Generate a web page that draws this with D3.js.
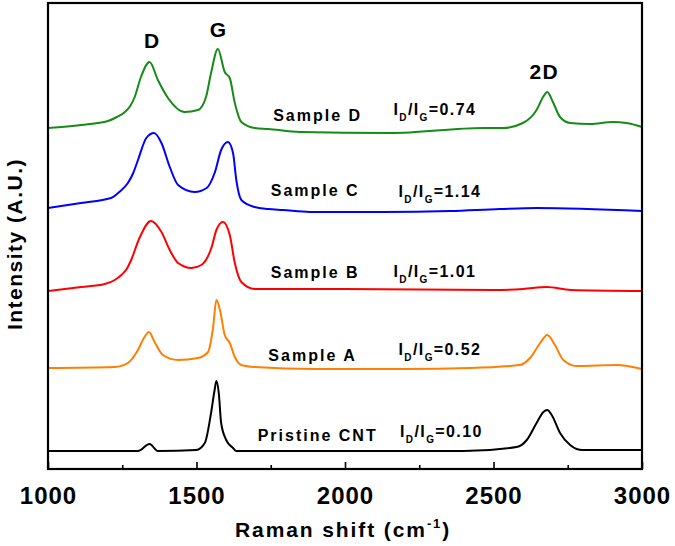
<!DOCTYPE html>
<html>
<head>
<meta charset="utf-8">
<script src="https://cdn.jsdelivr.net/npm/d3@7"></script>
<style>
  html, body { margin: 0; padding: 0; background: #fff; }
  svg { display: block; font-family: Arial, "Liberation Sans", sans-serif; }
</style>
</head>
<body>
<svg id="chart" width="675" height="546"></svg>
<script>
// ---- data (Raman shift in cm^-1, intensity in arbitrary units, curves already stacked) ----
const pristineCNT = [[1000,18],[1303,18],[1342,25],[1370,18],[1499,19],[1528,26],[1549,56],[1561,79],[1567,88],[1575,76],[1583,46],[1600,29],[1623,21],[1634,18],[2400,18],[2578,22],[2612,29],[2645,46],[2668,57],[2681,59],[2696,54],[2724,36],[2758,24],[2780,20],[2800,19],[3000,19]];
const sampleA = [[1000,101],[1225,102],[1269,106],[1303,119],[1325,132],[1340,137],[1359,127],[1387,114],[1438,109],[1505,111],[1539,117],[1556,142],[1567,169],[1579,159],[1595,134],[1612,126],[1629,112],[1651,104],[1696,102],[1900,100],[2200,100],[2421,101],[2589,104],[2623,111],[2657,126],[2681,134],[2707,124],[2735,109],[2780,103],[2915,104],[3000,100]];
const sampleB = [[1000,178],[1112,182],[1191,185],[1225,189],[1247,194],[1265,200],[1280,209],[1308,231],[1347,248],[1382,237],[1410,219],[1438,206],[1483,201],[1516,204],[1550,221],[1567,239],[1589,247],[1612,234],[1629,206],[1651,187],[1696,180],[1741,180],[2000,180],[2500,179],[2600,180],[2680,182],[2760,179],[3000,178]];
const sampleC = [[1000,261],[1111,266],[1212,271],[1240,277],[1269,286],[1287,296],[1303,309],[1331,331],[1357,336],[1382,326],[1410,302],[1438,284],[1494,277],[1534,281],[1561,296],[1583,319],[1606,327],[1623,316],[1634,289],[1651,269],[1696,262],[1741,260],[1791,259],[1882,257],[2128,257],[2354,258],[2522,260],[2645,261],[3000,258]];
const sampleD = [[1000,341],[1111,344],[1202,348],[1232,352],[1259,357],[1277,363],[1292,372],[1313,392],[1342,407],[1370,389],[1404,371],[1460,357],[1505,359],[1532,372],[1549,396],[1572,420],[1595,397],[1612,391],[1629,366],[1651,347],[1696,341],[1741,340],[1848,337],[2152,336],[2465,341],[2532,341],[2599,346],[2645,359],[2667,372],[2681,377],[2700,367],[2724,352],[2758,346],[2825,345],[2902,347],[2948,346],[3000,342]];

const seriesNames  = ["Pristine CNT", "Sample A", "Sample B", "Sample C", "Sample D"];
const seriesData   = [pristineCNT, sampleA, sampleB, sampleC, sampleD];
const seriesColors = ["#000000", "#ff8000", "#ff0000", "#0000ff", "#178a17"];
const ratioValues  = ["0.10", "0.52", "1.01", "1.14", "0.74"];
// label anchors in data units [shift, intensity]
const nameAnchors  = [[1706,28],[1742,108],[1750,191],[1750,273],[1758,348]];
const ratioAnchors = [[2185,32],[2180,114],[2163,192],[2180,272],[2163,354]];
const peakLabels   = ["D", "G", "2D"];
const peakAnchors  = [[1323,421],[1545,432],[2621,390]];
const xTickValues  = [1000, 1500, 2000, 2500, 3000];
const xMinorValues = [1250, 1750, 2250, 2750];

// ---- layout ----
const svg = d3.select("#chart");
const L = 48, R = 642, T = 3, B = 469;
const x = d3.scaleLinear().domain([1000, 3000]).range([L, R]);
const y = d3.scaleLinear().domain([0, 466]).range([B, T]);

const line = d3.line()
  .x(d => x(d[0]))
  .y(d => y(d[1]))
  .curve(d3.curveMonotoneX);

// curves
svg.append("g").selectAll("path")
  .data(seriesData)
  .join("path")
  .attr("d", d => line(d))
  .attr("fill", "none")
  .attr("stroke", (d, i) => seriesColors[i])
  .attr("stroke-width", 2)
  .attr("stroke-linejoin", "round");

// x axis (ticks inward)
const xAxis = d3.axisBottom(x).tickValues(xTickValues).tickSize(-7).tickPadding(18).tickFormat(d3.format("d"));
const gx = svg.append("g").attr("transform", `translate(0,${B})`).call(xAxis);
gx.select(".domain").remove();
gx.selectAll(".tick line").attr("stroke", "#000").attr("stroke-width", 1.6);
gx.selectAll(".tick text")
  .attr("fill", "#000")
  .attr("font-size", 24)
  .attr("font-weight", "bold")
  .attr("letter-spacing", 1)
  .attr("dy", "0.71em");
const xMinor = d3.axisBottom(x).tickValues(xMinorValues).tickSize(-4).tickFormat("");
const gm = svg.append("g").attr("transform", `translate(0,${B})`).call(xMinor);
gm.select(".domain").remove();
gm.selectAll(".tick line").attr("stroke", "#000").attr("stroke-width", 1.6);

// frame
svg.append("rect")
  .attr("x", L).attr("y", T).attr("width", R - L).attr("height", B - T)
  .attr("fill", "none").attr("stroke", "#000").attr("stroke-width", 2.2);

// series name labels
svg.append("g").selectAll("text")
  .data(seriesNames)
  .join("text")
  .attr("x", (d, i) => x(nameAnchors[i][0]))
  .attr("y", (d, i) => y(nameAnchors[i][1]))
  .attr("font-size", 16)
  .attr("font-weight", "bold")
  .attr("letter-spacing", 2)
  .attr("fill", "#000")
  .text(d => d);

// ratio labels I_D/I_G=...
ratioValues.forEach((v, i) => {
  const t = svg.append("text")
    .attr("x", x(ratioAnchors[i][0]))
    .attr("y", y(ratioAnchors[i][1]))
    .attr("font-size", 16)
    .attr("font-weight", "bold")
    .attr("letter-spacing", 1.4)
    .attr("fill", "#000");
  t.append("tspan").text("I");
  t.append("tspan").attr("font-size", 10).attr("dy", 6).text("D");
  t.append("tspan").attr("dy", -6).text("/I");
  t.append("tspan").attr("font-size", 10).attr("dy", 6).text("G");
  t.append("tspan").attr("dy", -6).text("=" + v);
});

// peak labels
svg.append("g").selectAll("text")
  .data(peakLabels)
  .join("text")
  .attr("x", (d, i) => x(peakAnchors[i][0]))
  .attr("y", (d, i) => y(peakAnchors[i][1]))
  .attr("font-size", 21)
  .attr("font-weight", "bold")
  .attr("letter-spacing", 1.5)
  .attr("fill", "#000")
  .text(d => d);

// axis titles
const xt = svg.append("text")
  .attr("x", 235).attr("y", 537)
  .attr("font-size", 21).attr("font-weight", "bold")
  .attr("letter-spacing", 1.9).attr("fill", "#000");
xt.append("tspan").text("Raman shift (cm");
xt.append("tspan").attr("font-size", 13).attr("dy", -9).text("-1");
xt.append("tspan").attr("dy", 9).text(")");

svg.append("text")
  .attr("transform", "translate(22,244) rotate(-90)")
  .attr("text-anchor", "middle")
  .attr("font-size", 21).attr("font-weight", "bold")
  .attr("letter-spacing", 1.5).attr("fill", "#000")
  .text("Intensity (A.U.)");
</script>
</body>
</html>
